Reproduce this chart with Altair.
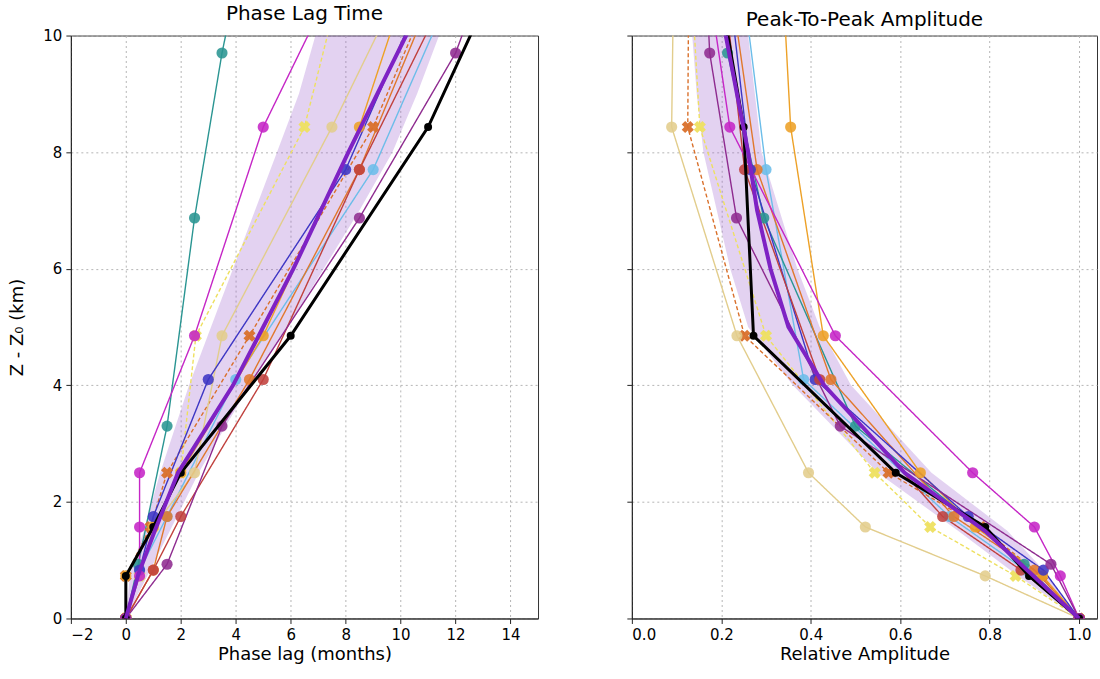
import altair as alt
import pandas as pd

# ---------------- data ----------------
# depth levels (km above Z0) of the three groups of profiles
depth_a = [0.0, 0.73, 1.57, 2.5, 4.85, 8.43, 12.0]
depth_b = [0.0, 0.83, 1.75, 4.1, 7.7, 12.0]
depth_c = [0.0, 0.93, 3.3, 6.87, 9.7, 12.0]

# phase lag (months)
phase_magenta = [0.0, 0.5, 0.5, 0.5, 2.5, 5.0, 8.7]
phase_tan = [0.0, 0.5, 1.0, 2.5, 3.5, 7.5, 11.2]
phase_orange = [0.0, 0.0, 1.0, 2.0, 5.0, 8.5, 11.0]
phase_yellow_x = [0.0, 0.5, 1.0, 2.0, 2.55, 6.5, 8.4]
phase_darkorange_x = [0.0, 0.0, 0.9, 1.5, 4.5, 9.0, 12.2]
phase_blue = [0.0, 0.5, 1.0, 3.0, 8.0, 12.0]
phase_brick = [0.0, 1.0, 2.0, 5.0, 8.5, 13.0]
phase_lightblue = [0.0, 0.5, 1.5, 4.0, 9.0, 13.0]
phase_darkorange = [0.0, 1.0, 1.5, 4.5, 8.5, 12.3]
phase_teal = [0.0, 0.45, 1.5, 2.5, 3.5, 4.5]
phase_purple = [0.0, 1.5, 3.5, 8.5, 12.0, 13.8]
phase_black = [0.0, 0.0, 1.0, 2.0, 6.0, 11.0, 14.5]

# relative amplitude
amp_magenta = [1.0, 0.958, 0.90, 0.762, 0.455, 0.219, 0.15]
amp_tan = [1.0, 0.79, 0.522, 0.395, 0.235, 0.089, 0.095]
amp_orange = [1.0, 0.918, 0.768, 0.645, 0.428, 0.355, 0.33]
amp_yellow_x = [1.0, 0.858, 0.667, 0.543, 0.30, 0.152, 0.125]
amp_darkorange_x = [1.0, 0.917, 0.78, 0.574, 0.252, 0.125, 0.128]
amp_blue = [1.0, 0.92, 0.752, 0.41, 0.265, 0.20]
amp_brick = [1.0, 0.87, 0.695, 0.42, 0.252, 0.19]
amp_lightblue = [1.0, 0.88, 0.71, 0.384, 0.30, 0.23]
amp_darkorange = [1.0, 0.90, 0.72, 0.445, 0.28, 0.20]
amp_teal = [1.0, 0.877, 0.50, 0.295, 0.214, 0.19]
amp_purple = [1.0, 0.937, 0.466, 0.234, 0.174, 0.16]
amp_black = [1.0, 0.888, 0.79, 0.59, 0.272, 0.25, 0.17]

# ensemble mean and spread
mean_depth = [0.0, 0.75, 1.5, 2.5, 4.0, 5.0, 6.0, 7.0, 8.0, 9.0, 10.0, 10.5]
mean_phase = [0.0, 0.45, 1.05, 1.9, 3.9, 5.0, 6.1, 7.1, 8.1, 9.15, 10.2, 10.7]
band_phase_lo = [0.0, 0.15, 0.65, 1.25, 2.3, 3.1, 3.9, 4.7, 5.5, 6.3, 6.9, 7.2]
band_phase_hi = [0.0, 0.8, 1.6, 2.65, 4.5, 5.9, 7.2, 8.5, 9.7, 10.6, 11.4, 11.8]
mean_amp = [1.0, 0.895, 0.79, 0.61, 0.43, 0.35, 0.31, 0.28, 0.26, 0.235, 0.21, 0.20]
band_amp_lo = [1.0, 0.86, 0.73, 0.55, 0.36, 0.26, 0.22, 0.19, 0.16, 0.145, 0.135, 0.13]
band_amp_hi = [1.0, 0.93, 0.84, 0.67, 0.49, 0.42, 0.37, 0.33, 0.29, 0.275, 0.26, 0.255]

# axis ticks
phase_ticks = [-2, 0, 2, 4, 6, 8, 10, 12, 14]
amp_ticks = [0.0, 0.2, 0.4, 0.6, 0.8, 1.0]
depth_ticks = [0, 2, 4, 6, 8, 10]

# series table (drawing order): name, depths, phase, amplitude, colour, dashed, marker
series = [
    ("lightblue", depth_b, phase_lightblue, amp_lightblue, "#6cbde9", False, "o"),
    ("yellow_x", depth_a, phase_yellow_x, amp_yellow_x, "#eee060", True, "x"),
    ("darkorange_x", depth_a, phase_darkorange_x, amp_darkorange_x, "#d9702b", True, "x"),
    ("tan", depth_a, phase_tan, amp_tan, "#e2cd8c", False, "o"),
    ("orange", depth_a, phase_orange, amp_orange, "#eda127", False, "o"),
    ("teal", depth_c, phase_teal, amp_teal, "#2a9592", False, "o"),
    ("darkorange", depth_b, phase_darkorange, amp_darkorange, "#e0782c", False, "o"),
    ("blue", depth_b, phase_blue, amp_blue, "#3d36c4", False, "o"),
    ("brick", depth_b, phase_brick, amp_brick, "#c0413d", False, "o"),
    ("magenta", depth_a, phase_magenta, amp_magenta, "#c526c6", False, "o"),
    ("purple", depth_c, phase_purple, amp_purple, "#8e2b8f", False, "o"),
]

rows = []
for name, dep, ph, am, col, dash, mk in series:
    for d, p, a in zip(dep, ph, am):
        rows.append({"series": name, "depth": d, "phase": p, "amp": a, "marker": mk})
df = pd.DataFrame(rows)
df_pts = df[df["depth"] <= 10]

df_black = pd.DataFrame({"depth": depth_a, "phase": phase_black, "amp": amp_black})
df_black_pts = df_black[df_black["depth"] <= 10]

df_mean = pd.DataFrame({
    "depth": mean_depth, "phase": mean_phase, "amp": mean_amp,
    "phase_lo": band_phase_lo, "phase_hi": band_phase_hi,
    "amp_lo": band_amp_lo, "amp_hi": band_amp_hi,
})

names = [s[0] for s in series]
colors = [s[4] for s in series]
dashes = [[4, 2.5] if s[5] else [1, 0] for s in series]

FONT = "DejaVu Sans"
Y_DOMAIN = [0, 10]


def panel(xf, lo, hi, xdomain, xticks, fmt, title, xtitle, first, width):
    xscale = alt.Scale(domain=xdomain, nice=False, zero=False)
    yscale = alt.Scale(domain=Y_DOMAIN, nice=False)
    xaxis = alt.Axis(values=xticks, format=fmt, title=xtitle, grid=True)
    if first:
        yaxis = alt.Axis(values=depth_ticks, format="d", title="Z - Z₀ (km)", grid=True,
                         minExtent=30, maxExtent=30, titlePadding=14)
    else:
        yaxis = alt.Axis(values=depth_ticks, format="d", title=None, labels=False, grid=True)

    y = alt.Y("depth:Q", scale=yscale, axis=yaxis)
    xn = alt.X(f"{xf}:Q", scale=xscale)
    yn = alt.Y("depth:Q", scale=yscale)
    cscale = alt.Scale(domain=names, range=colors)

    band = alt.Chart(df_mean).mark_area(
        orient="horizontal", color="#9b5ccc", opacity=0.28, clip=True
    ).encode(x=alt.X(f"{lo}:Q", scale=xscale, axis=xaxis), x2=alt.X2(f"{hi}:Q"), y=y)

    lines = alt.Chart(df).mark_line(strokeWidth=1.4, clip=True).encode(
        x=xn, y=yn,
        color=alt.Color("series:N", scale=cscale, legend=None),
        strokeDash=alt.StrokeDash("series:N", scale=alt.Scale(domain=names, range=dashes), legend=None),
        order=alt.Order("depth:Q"),
    )

    crosses = alt.Chart(df_pts).transform_filter(alt.datum.marker == "x").mark_point(
        shape="cross", angle=45, filled=True, size=150, opacity=0.95, clip=True
    ).encode(x=xn, y=yn, color=alt.Color("series:N", scale=cscale, legend=None))

    circles = alt.Chart(df_pts).transform_filter(alt.datum.marker == "o").mark_circle(
        size=125, opacity=0.88, clip=True
    ).encode(x=xn, y=yn, color=alt.Color("series:N", scale=cscale, legend=None))

    black_line = alt.Chart(df_black).mark_line(color="black", strokeWidth=3, clip=True).encode(
        x=xn, y=yn, order=alt.Order("depth:Q"))
    black_pts = alt.Chart(df_black_pts).mark_circle(color="black", size=64, opacity=1, clip=True).encode(
        x=xn, y=yn)

    mean_line = alt.Chart(df_mean).mark_line(color="#7e22c4", strokeWidth=4, clip=True).encode(
        x=xn, y=yn, order=alt.Order("depth:Q"))

    return alt.layer(band, lines, crosses, circles, black_line, black_pts, mean_line).properties(
        width=width, height=584,
        title=alt.TitleParams(title, fontSize=20, font=FONT, fontWeight="normal", offset=5, color="black"),
    )


left = panel("phase", "phase_lo", "phase_hi", [-2, 15], phase_ticks, "d",
             "Phase Lag Time", "Phase lag (months)", True, 468)
right = panel("amp", "amp_lo", "amp_hi", [0, 1.04], amp_ticks, ".1f",
              "Peak-To-Peak Amplitude", "Relative Amplitude", False, 466)

chart = alt.hconcat(left, right, spacing=87).properties(
    padding={"left": 8, "top": 2, "right": 2, "bottom": 2},
    background="white",
).configure_view(
    stroke="#333", strokeWidth=1
).configure_axis(
    labelFont=FONT, titleFont=FONT, labelFontSize=15, titleFontSize=18,
    labelColor="black", titleColor="black", titleFontWeight="normal",
    domainColor="#222", tickColor="#222", tickSize=5, labelPadding=4,
    gridColor="#b5b5b5", gridDash=[2, 3], gridWidth=1, titlePadding=3,
).configure_concat(spacing=87)

chart.save("out.html", embed_options={"renderer": "svg", "actions": False})
